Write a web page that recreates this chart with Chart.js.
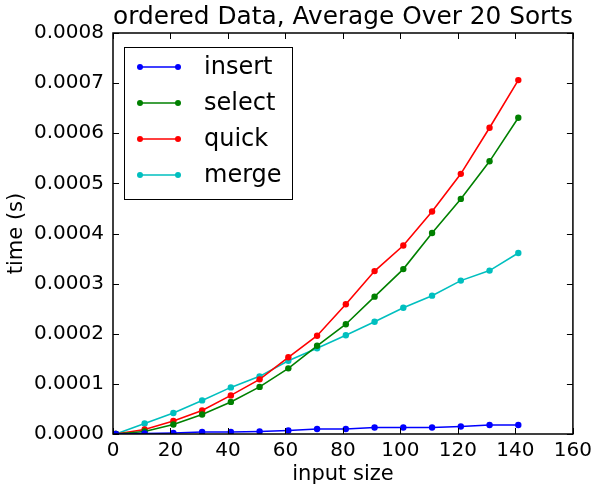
<!DOCTYPE html>
<html lang="en">
<head>
    <meta charset="UTF-8">
    <title>ordered Data, Average Over 20 Sorts</title>
    <script src="https://cdn.jsdelivr.net/npm/chart.js"></script>
    <style>
        * { margin: 0; padding: 0; box-sizing: border-box; }
        body { background: #fff; }
        #wrap { width: 597px; height: 484px; }
    </style>
</head>
<body>
    <div id="wrap"><canvas id="sortChart"></canvas></div>
    <script>
        // input sizes and average times (seconds)
        const sizes = [1, 11, 21, 31, 41, 51, 61, 71, 81, 91, 101, 111, 121, 131, 141];
        const insertTimes = [0, 0.000001, 0.000002, 0.000004, 0.000004, 0.000005, 0.000007, 0.00001, 0.00001, 0.000013, 0.000013, 0.000013, 0.000015, 0.000018, 0.000018];
        const selectTimes = [0, 0.000005, 0.000019, 0.000039, 0.000064, 0.000094, 0.000131, 0.000176, 0.000219, 0.000274, 0.000329, 0.000401, 0.000469, 0.000544, 0.000631];
        const quickTimes = [0, 0.000009, 0.000026, 0.000047, 0.000077, 0.000109, 0.000153, 0.000196, 0.000259, 0.000325, 0.000376, 0.000444, 0.000519, 0.000611, 0.000706];
        const mergeTimes = [0, 0.000021, 0.000042, 0.000067, 0.000093, 0.000115, 0.000146, 0.000171, 0.000197, 0.000224, 0.000252, 0.000276, 0.000306, 0.000326, 0.000361];
        const xTicks = [0, 20, 40, 60, 80, 100, 120, 140, 160];
        const yTicks = [0, 0.0001, 0.0002, 0.0003, 0.0004, 0.0005, 0.0006, 0.0007, 0.0008];

        const FONT = "'DejaVu Sans', sans-serif";

        function series(label, values, color) {
            return {
                label: label,
                data: sizes.map((s, i) => ({ x: s, y: values[i] })),
                borderColor: color,
                backgroundColor: color,
                borderWidth: 1.6,
                pointRadius: 3.2,
                pointBorderWidth: 0,
                tension: 0
            };
        }

        // frame, inward ticks on all four sides, and the boxed legend
        const mplDecor = {
            id: 'mplDecor',
            afterDatasetsDraw(chart) {
                const ctx = chart.ctx;
                const a = chart.chartArea;
                const xs = chart.scales.x, ys = chart.scales.y;
                ctx.save();
                ctx.strokeStyle = '#000';
                ctx.lineWidth = 1;
                ctx.beginPath();
                xTicks.forEach(v => {
                    const px = Math.round(xs.getPixelForValue(v)) + 0.5;
                    ctx.moveTo(px, a.bottom); ctx.lineTo(px, a.bottom - 6);
                    ctx.moveTo(px, a.top); ctx.lineTo(px, a.top + 6);
                });
                yTicks.forEach(v => {
                    const py = Math.round(ys.getPixelForValue(v)) + 0.5;
                    ctx.moveTo(a.left, py); ctx.lineTo(a.left + 6, py);
                    ctx.moveTo(a.right, py); ctx.lineTo(a.right - 6, py);
                });
                ctx.stroke();
                ctx.lineWidth = 1.5;
                ctx.strokeRect(a.left, a.top, a.right - a.left, a.bottom - a.top);

                // legend
                const lx = a.left + 11, ly = a.top + 14, lw = 168, lh = 152;
                ctx.fillStyle = '#fff';
                ctx.fillRect(lx, ly, lw, lh);
                ctx.lineWidth = 1;
                ctx.strokeRect(lx + 0.5, ly + 0.5, lw, lh);
                ctx.font = '24px ' + FONT;
                ctx.textBaseline = 'middle';
                ctx.textAlign = 'left';
                chart.data.datasets.forEach((ds, i) => {
                    const cy = ly + 20 + i * 36;
                    ctx.strokeStyle = ds.borderColor;
                    ctx.fillStyle = ds.borderColor;
                    ctx.lineWidth = 1.5;
                    ctx.beginPath();
                    ctx.moveTo(lx + 16, cy); ctx.lineTo(lx + 54, cy);
                    ctx.stroke();
                    [lx + 16, lx + 54].forEach(px => {
                        ctx.beginPath();
                        ctx.arc(px, cy, 3, 0, Math.PI * 2);
                        ctx.fill();
                    });
                    ctx.fillStyle = '#000';
                    ctx.fillText(ds.label, lx + 80, cy + 1);
                });
                ctx.restore();
            }
        };

        const ctx = document.getElementById('sortChart').getContext('2d');
        new Chart(ctx, {
            type: 'line',
            data: {
                datasets: [
                    series('insert', insertTimes, '#0000ff'),
                    series('select', selectTimes, '#008000'),
                    series('quick', quickTimes, '#ff0000'),
                    series('merge', mergeTimes, '#00bfbf')
                ]
            },
            options: {
                responsive: true,
                maintainAspectRatio: false,
                animation: false,
                layout: { padding: { left: 0, right: 21, top: 0, bottom: 0 } },
                plugins: {
                    legend: { display: false },
                    tooltip: { enabled: false },
                    title: {
                        display: true,
                        fullSize: false,
                        text: 'ordered Data, Average Over 20 Sorts',
                        color: '#000',
                        font: { family: FONT, size: 25, weight: 'normal', lineHeight: 1.2 },
                        padding: { top: 2, bottom: 1 }
                    }
                },
                scales: {
                    x: {
                        type: 'linear',
                        min: 0,
                        max: 160,
                        afterFit(scale) { scale.height = 50; },
                        afterBuildTicks(scale) { scale.ticks = xTicks.map(v => ({ value: v })); },
                        grid: { drawOnChartArea: false, drawTicks: false },
                        border: { display: false },
                        ticks: {
                            color: '#000',
                            padding: 5,
                            maxRotation: 0,
                            font: { family: FONT, size: 20 }
                        },
                        title: {
                            display: true,
                            text: 'input size',
                            color: '#000',
                            padding: { top: 0, bottom: -3 },
                            font: { family: FONT, size: 21 }
                        }
                    },
                    y: {
                        min: 0,
                        max: 0.0008,
                        afterFit(scale) { scale.width = 113; },
                        afterBuildTicks(scale) { scale.ticks = yTicks.map(v => ({ value: v })); },
                        grid: { drawOnChartArea: false, drawTicks: false },
                        border: { display: false },
                        ticks: {
                            color: '#000',
                            padding: 9,
                            font: { family: FONT, size: 20 },
                            callback: v => Number(v).toFixed(4)
                        },
                        title: {
                            display: true,
                            text: 'time (s)',
                            color: '#000',
                            padding: { top: 4, bottom: 0 },
                            font: { family: FONT, size: 21 }
                        }
                    }
                }
            },
            plugins: [mplDecor]
        });
    </script>
</body>
</html>
